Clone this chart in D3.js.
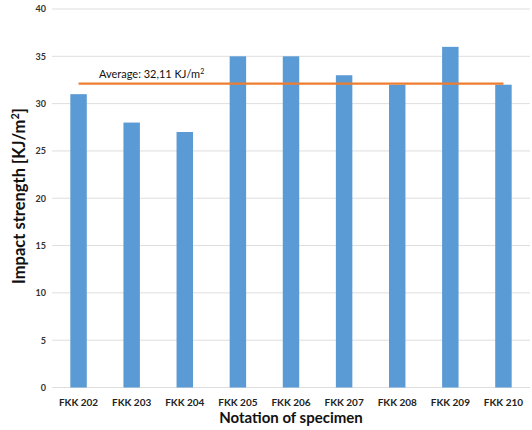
<!DOCTYPE html>
<html><head><meta charset="utf-8">
<script src="https://cdn.jsdelivr.net/npm/d3@7"></script>
<style>body{margin:0;background:#fff}svg{display:block}</style>
</head><body>
<script>
const categories = ["FKK 202","FKK 203","FKK 204","FKK 205","FKK 206","FKK 207","FKK 208","FKK 209","FKK 210"];
const values = [31, 28, 27, 35, 35, 33, 32, 36, 32];
const average = 32.11;
const yTicks = [0,5,10,15,20,25,30,35,40];

const W = 532, H = 430;
const m = {left: 52, right: 2, top: 9, bottom: 42};
const font = "Lato, 'Open Sans', sans-serif";
const svg = d3.select("body").append("svg").attr("width", W).attr("height", H);

const x = d3.scaleBand().domain(categories).range([m.left, W - m.right]).paddingInner(0.69).paddingOuter(0.345);
const y = d3.scaleLinear().domain([0, 40]).range([H - m.bottom - 0.5, m.top]);

// grid
svg.append("g").selectAll("line").data(yTicks).join("line")
  .attr("x1", m.left).attr("x2", W - m.right)
  .attr("y1", d => y(d)).attr("y2", d => y(d))
  .attr("stroke", "#dedede").attr("stroke-width", 1);

// y axis labels
const yAxis = d3.axisLeft(y).tickValues(yTicks).tickSize(0).tickPadding(0);
const gy = svg.append("g").attr("transform", `translate(${m.left - 6},0)`).call(yAxis);
gy.select(".domain").remove();
gy.selectAll("text").attr("font-family", font).attr("font-weight", "bold").attr("font-size", 9).attr("fill", "#333");

// bars
svg.append("g").selectAll("rect").data(values).join("rect")
  .attr("x", (d, i) => x(categories[i]))
  .attr("width", x.bandwidth())
  .attr("y", d => y(d))
  .attr("height", d => y(0) - y(d))
  .attr("fill", "#5b9bd5");

// x axis
const xAxis = d3.axisBottom(x).tickSize(0).tickPadding(11);
const gx = svg.append("g").attr("transform", `translate(0,${y(0)})`).call(xAxis);
gx.select(".domain").remove();
gx.selectAll("text").attr("font-family", font).attr("font-weight", "bold").attr("font-size", 10).attr("fill", "#222");

// average line
const xc = c => x(c) + x.bandwidth() / 2;
svg.append("line")
  .attr("x1", xc(categories[0])).attr("x2", xc(categories[categories.length - 1]))
  .attr("y1", y(average)).attr("y2", y(average))
  .attr("stroke", "#ed7d31").attr("stroke-width", 2.2);

const t = svg.append("text").attr("x", 99).attr("y", y(average) - 6)
  .attr("font-family", font).attr("font-size", 11).attr("fill", "#111");
t.append("tspan").text("Average: 32,11 KJ/m");
t.append("tspan").attr("font-size", 7).attr("dy", -4).text("2");

// axis titles
svg.append("text").attr("x", (m.left + W - m.right) / 2).attr("y", 423)
  .attr("text-anchor", "middle").attr("font-family", font).attr("font-weight", "bold")
  .attr("font-size", 15).attr("fill", "#111").text("Notation of specimen");

const yt = svg.append("text").attr("transform", `translate(25,196) rotate(-90)`)
  .attr("text-anchor", "middle").attr("font-family", font).attr("font-weight", "bold")
  .attr("font-size", 16.5).attr("fill", "#111");
yt.append("tspan").text("Impact strength [KJ/m");
yt.append("tspan").attr("font-size", 11).attr("dy", -6).text("2");
yt.append("tspan").attr("dy", 6).text("]");
</script>
</body></html>
